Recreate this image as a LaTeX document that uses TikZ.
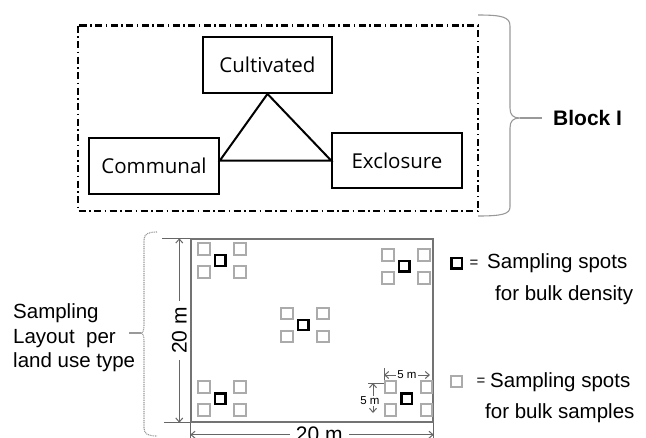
\documentclass[tikz,border=0pt]{standalone}
\usepackage{fontspec}
\setmainfont{Liberation Sans}
\newfontfamily\boxfont{Open Sans}
\usetikzlibrary{arrows.meta}

\begin{document}
\begin{tikzpicture}[x=1pt,y=-1pt,
    landuse/.style={rectangle,draw,line width=1.8pt,minimum width=130pt,minimum height=56pt,inner sep=0pt,font=\boxfont\fontsize{20.5}{24}\selectfont},
    block/.style={draw,line width=2.2pt,dash pattern=on 7pt off 3.5pt on 1.5pt off 3.5pt},
    brace/.style={draw=black!40,line width=1.1pt},
    field/.style={rectangle,draw=black!55,line width=1.4pt,minimum width=242pt,minimum height=183pt,inner sep=0pt},
    bulk/.style={rectangle,draw=black!33,line width=2pt,minimum size=11.5pt,inner sep=0pt},
    dens/.style={rectangle,draw=black,line width=2.4pt,minimum size=10.5pt,inner sep=0pt},
    dim/.style={draw=black!60,line width=1pt},
    dimarrow/.style={dim,{Straight Barb[length=4pt,width=7pt]}-{Straight Barb[length=4pt,width=7pt]}},
    big/.style={font=\fontsize{21}{25}\selectfont},
    small/.style={font=\fontsize{11.5}{13}\selectfont},
    equal/.style={inner sep=0pt,font=\fontsize{15}{15}\selectfont},
    txt/.style={font=\fontsize{20.5}{24.5}\selectfont,align=left,inner sep=0pt},
]
\useasboundingbox (0,0) rectangle (646,437);

% block with the three land use types
\node[landuse,minimum width=129pt] (cult) at (267.5,65) {Cultivated};
\node[landuse] (comm) at (154,166) {Communal};
\node[landuse,minimum height=55pt] (excl) at (397,160.5) {Exclosure};
\draw[line width=2pt] (cult.south) -- (comm.east |- excl.west) -- (excl.west) -- cycle;
\draw[block] (78,25.5) rectangle (478,211);

\node[txt,anchor=west,font=\bfseries\fontsize{21}{25}\selectfont] (blk) at (553,118) {Block I};
\coordinate (btip) at (520,118);
\draw[brace] (478,15) .. controls (502,15) and (510,17) .. (510,26) -- (510,108)
    .. controls (510,115) and (513,118) .. (btip)
    .. controls (513,118) and (510,121) .. (510,128) -- (510,207)
    .. controls (510,214) and (502,216) .. (478,216);
\draw[brace] (btip) -- ([xshift=-11pt]blk.west);

% sampling layout
\node[txt,anchor=west] (lay) at (13,338) {Sampling\\Layout~ per\\land use type};
\coordinate (ltip) at (141,333);
\draw[brace,dash pattern=on 1pt off 0.8pt] (157,232) .. controls (148,232) and (144,234) .. (144,240) -- (144,325)
    .. controls (144,330) and (143,333) .. (ltip)
    .. controls (143,333) and (144,336) .. (144,341) -- (144,428)
    .. controls (144,434) and (148,436) .. (157,436);
\draw[brace] (ltip) -- ++(-12,0);

\node[field] (plot) at (312,330.5) {};
\foreach \cx/\cy [count=\i] in {222/260.5,406/266.3,305/325,222/398.7,408.3/398.7}{
    \node[bulk] (b\i-1) at (\cx-18,\cy-11.5) {};
    \node[bulk] (b\i-2) at (\cx+18,\cy-11.5) {};
    \node[bulk] (b\i-3) at (\cx-18,\cy+11.5) {};
    \node[bulk] (b\i-4) at (\cx+18,\cy+11.5) {};
    \node[dens] (d\i) at (\cx-1.7,\cy) {};
}

% dimensions
\draw[dim] (plot.north west) -- ++(-28,0);
\draw[dim] (plot.south west) -- ++(-26,0);
\draw[dimarrow] ([xshift=-11pt]plot.north west) -- ([xshift=-11pt]plot.south west)
    node[midway,fill=white,rotate=90,big,inner xsep=6pt,inner ysep=1pt] (vlen) {20 m};
\draw[dim] (plot.south west) -- ++(0,16);
\draw[dim] (plot.south east) -- ++(0,16);
\draw[dimarrow] ([yshift=-12pt]plot.south west) -- ([yshift=-12pt]plot.south east)
    node[pos=0.53,fill=white,big,inner xsep=6pt,inner ysep=1pt] (hlen) {20 m};

\draw[dim] (384,368) -- (384,380);
\draw[dimarrow] (384,375) -- (430,375) node[midway,fill=white,small,inner sep=1pt] (h5) {5 m};
\draw[dim] (368,383) -- (384,383);
\draw[dimarrow] (373,383) -- (373,413);
\node[small,fill=white,inner sep=1pt] (v5) at (370,401) {5 m};

% legend
\node[dens] (ldens) at (456.7,263.3) {};
\node[equal] (eq1) at (474,263.5) {=};
\node[txt,anchor=west] (lt1) at (487,263) {Sampling spots};
\node[txt,anchor=west] (lt2) at (495,295) {for bulk density};
\node[bulk] (lbulk) at (456.7,381.7) {};
\node[equal] (eq2) at (481,382) {=};
\node[txt,anchor=west] (lt3) at (490,381.7) {Sampling spots};
\node[txt,anchor=west] (lt4) at (485,413) {for bulk samples};
\end{tikzpicture}
\end{document}
